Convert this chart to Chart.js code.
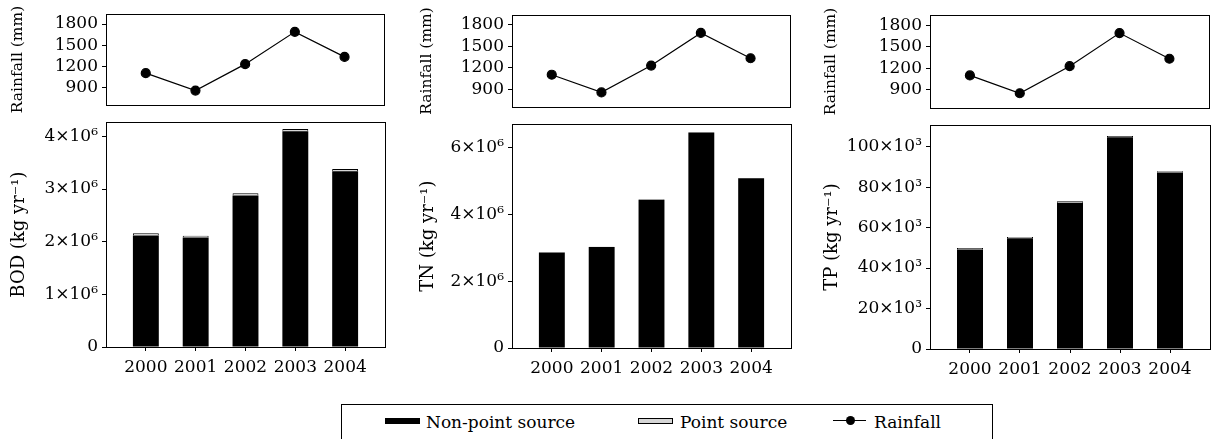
<!DOCTYPE html>
<html>
<head>
<meta charset="utf-8">
<script src="https://cdn.jsdelivr.net/npm/chart.js@4/dist/chart.umd.min.js"></script>
<style>
    body { margin: 0; background: #fff; width: 1214px; height: 439px; overflow: hidden; position: relative; font-family: 'DejaVu Serif', serif; color: #000; }
    canvas { position: absolute; }
    #legend { position: absolute; left: 341px; top: 404px; width: 652px; height: 50px; border: 1px solid #000; box-sizing: border-box; }
    .lg { position: absolute; font-size: 17px; line-height: 20px; top: 412px; white-space: nowrap; }
    .sw { position: absolute; box-sizing: border-box; }
</style>
</head>
<body>
<div id="legend"></div>
<div class="sw" style="left:385px;top:418px;width:35px;height:6px;background:#000;"></div>
<div class="lg" style="left:426px;">Non-point source</div>
<div class="sw" style="left:638px;top:418px;width:35px;height:6px;background:#d6d6d6;border:1px solid #000;"></div>
<div class="lg" style="left:680px;">Point source</div>
<div class="sw" style="left:833px;top:420px;width:33px;height:1px;background:#000;"></div>
<div class="sw" style="left:846px;top:416px;width:9px;height:9px;border-radius:50%;background:#000;"></div>
<div class="lg" style="left:874px;">Rainfall</div>

<canvas id="rain-bod"></canvas>
<canvas id="bar-bod"></canvas>
<canvas id="rain-tn"></canvas>
<canvas id="bar-tn"></canvas>
<canvas id="rain-tp"></canvas>
<canvas id="bar-tp"></canvas>

<script>
const years = [2000, 2001, 2002, 2003, 2004];
const rainfall = [1102, 854, 1230, 1689, 1333];
const rainTicks = [900, 1200, 1500, 1800];

const bodNonPoint = [2.12e6, 2.08e6, 2.88e6, 4.10e6, 3.34e6];
const bodPoint = [0.04e6, 0.035e6, 0.04e6, 0.04e6, 0.04e6];
const bodTicks = [0, 1e6, 2e6, 3e6, 4e6];
const bodTickLabels = ['0', '1×10⁶', '2×10⁶', '3×10⁶', '4×10⁶'];

const tnNonPoint = [2.86e6, 3.02e6, 4.44e6, 6.45e6, 5.08e6];
const tnPoint = [0.01e6, 0.01e6, 0.01e6, 0.01e6, 0.01e6];
const tnTicks = [0, 2e6, 4e6, 6e6];
const tnTickLabels = ['0', '2×10⁶', '4×10⁶', '6×10⁶'];

const tpNonPoint = [49.2e3, 54.7e3, 72.3e3, 104.6e3, 87.2e3];
const tpPoint = [0.7e3, 0.7e3, 0.7e3, 0.7e3, 0.7e3];
const tpTicks = [0, 20e3, 40e3, 60e3, 80e3, 100e3];
const tpTickLabels = ['0', '20×10³', '40×10³', '60×10³', '80×10³', '100×10³'];

const FONT = "'DejaVu Serif', serif";

// panel geometry on the page
const columns = [
    { key: 'bod', title: 'BOD (kg yr⁻¹)', nonPoint: bodNonPoint, point: bodPoint, ticks: bodTicks, labels: bodTickLabels, max: 4.27e6,
      cl: 9, L: 106, R: 385, top: 14, mid: 118, base: 347 },
    { key: 'tn', title: 'TN (kg yr⁻¹)', nonPoint: tnNonPoint, point: tnPoint, ticks: tnTicks, labels: tnTickLabels, max: 6.7e6,
      cl: 418, L: 512, R: 791, top: 15, mid: 120, base: 348 },
    { key: 'tp', title: 'TP (kg yr⁻¹)', nonPoint: tpNonPoint, point: tpPoint, ticks: tpTicks, labels: tpTickLabels, max: 110.6e3,
      cl: 822, L: 930, R: 1210, top: 15, mid: 121, base: 349 }
];

const framePlugin = {
    id: 'frame',
    afterDraw(chart) {
        const { ctx, chartArea: a } = chart;
        ctx.save();
        ctx.strokeStyle = '#000';
        ctx.lineWidth = 1;
        ctx.strokeRect(Math.round(a.left) + 0.5, Math.round(a.top) + 0.5,
            Math.round(a.right - a.left), Math.round(a.bottom - a.top));
        ctx.restore();
    }
};

function place(canvas, left, top, w, h) {
    canvas.width = w;
    canvas.height = h;
    canvas.style.left = left + 'px';
    canvas.style.top = top + 'px';
    canvas.style.width = w + 'px';
    canvas.style.height = h + 'px';
}

function yAxisCommon(col) {
    return {
        afterFit: s => { s.width = col.L - col.cl; },
        border: { display: false },
        grid: { drawOnChartArea: false, drawTicks: true, tickLength: 4, color: '#000' },
        ticks: { color: '#000', font: { family: FONT, size: 17 }, padding: 4 },
    };
}

function makeRain(col) {
    const canvas = document.getElementById('rain-' + col.key);
    const w = col.R - col.cl + 5;
    place(canvas, col.cl, 0, w, col.mid + 1);
    const yAxis = yAxisCommon(col);
    return new Chart(canvas, {
        type: 'line',
        data: {
            datasets: [{
                label: 'Rainfall',
                data: years.map((y, i) => ({ x: y, y: rainfall[i] })),
                borderColor: '#000',
                borderWidth: 1.2,
                pointRadius: 4.5,
                pointBackgroundColor: '#000',
                pointBorderColor: '#000'
            }]
        },
        options: {
            responsive: false,
            animation: false,
            devicePixelRatio: 1,
            layout: { padding: { left: 0, right: 5, top: col.top, bottom: 1 } },
            plugins: { legend: { display: false }, tooltip: { enabled: false } },
            scales: {
                x: { type: 'linear', display: false, min: 1999.2, max: 2004.8 },
                y: Object.assign(yAxis, {
                    min: 652,
                    max: 1940,
                    afterBuildTicks: s => { s.ticks = rainTicks.map(v => ({ value: v })); },
                    ticks: Object.assign(yAxis.ticks, { callback: v => String(v) }),
                    title: { display: true, text: 'Rainfall (mm)', color: '#000', font: { family: FONT, size: 15.5 }, padding: 0 }
                })
            }
        },
        plugins: [framePlugin]
    });
}

function makeBars(col) {
    const canvas = document.getElementById('bar-' + col.key);
    const w = col.R - col.cl + 5;
    const top = col.mid - 10;
    place(canvas, col.cl, top, w, col.base - top + 40);
    const yAxis = yAxisCommon(col);
    return new Chart(canvas, {
        type: 'bar',
        data: {
            datasets: [{
                label: 'Non-point source',
                data: years.map((y, i) => ({ x: y, y: col.nonPoint[i] })),
                backgroundColor: '#000',
                borderWidth: 0,
                stack: 'src',
                barPercentage: 0.52,
                categoryPercentage: 1
            }, {
                label: 'Point source',
                data: years.map((y, i) => ({ x: y, y: col.point[i] })),
                backgroundColor: '#d6d6d6',
                borderColor: '#000',
                borderWidth: { top: 1, left: 1, right: 1, bottom: 0 },
                borderSkipped: false,
                stack: 'src',
                barPercentage: 0.52,
                categoryPercentage: 1
            }]
        },
        options: {
            responsive: false,
            animation: false,
            devicePixelRatio: 1,
            layout: { padding: { left: 0, right: 5, top: 10, bottom: 0 } },
            plugins: { legend: { display: false }, tooltip: { enabled: false } },
            scales: {
                x: {
                    type: 'linear',
                    min: 1999.2,
                    max: 2004.8,
                    offset: false,
                    afterBuildTicks: s => { s.ticks = years.map(v => ({ value: v })); },
                    afterFit: s => { s.height = 40; },
                    border: { display: false },
                    grid: { offset: false, drawOnChartArea: false, drawTicks: true, tickLength: 4, color: '#000' },
                    ticks: { color: '#000', font: { family: FONT, size: 17 }, padding: 6, maxRotation: 0, callback: v => String(v) }
                },
                y: Object.assign(yAxis, {
                    min: 0,
                    max: col.max,
                    afterBuildTicks: s => { s.ticks = col.ticks.map(v => ({ value: v })); },
                    ticks: Object.assign(yAxis.ticks, { callback: v => col.labels[col.ticks.indexOf(v)] }),
                    title: { display: true, text: col.title, color: '#000', font: { family: FONT, size: 18 }, padding: 0 }
                })
            }
        },
        plugins: [framePlugin]
    });
}

columns.forEach(col => {
    makeRain(col);
    makeBars(col);
});
</script>
</body>
</html>
